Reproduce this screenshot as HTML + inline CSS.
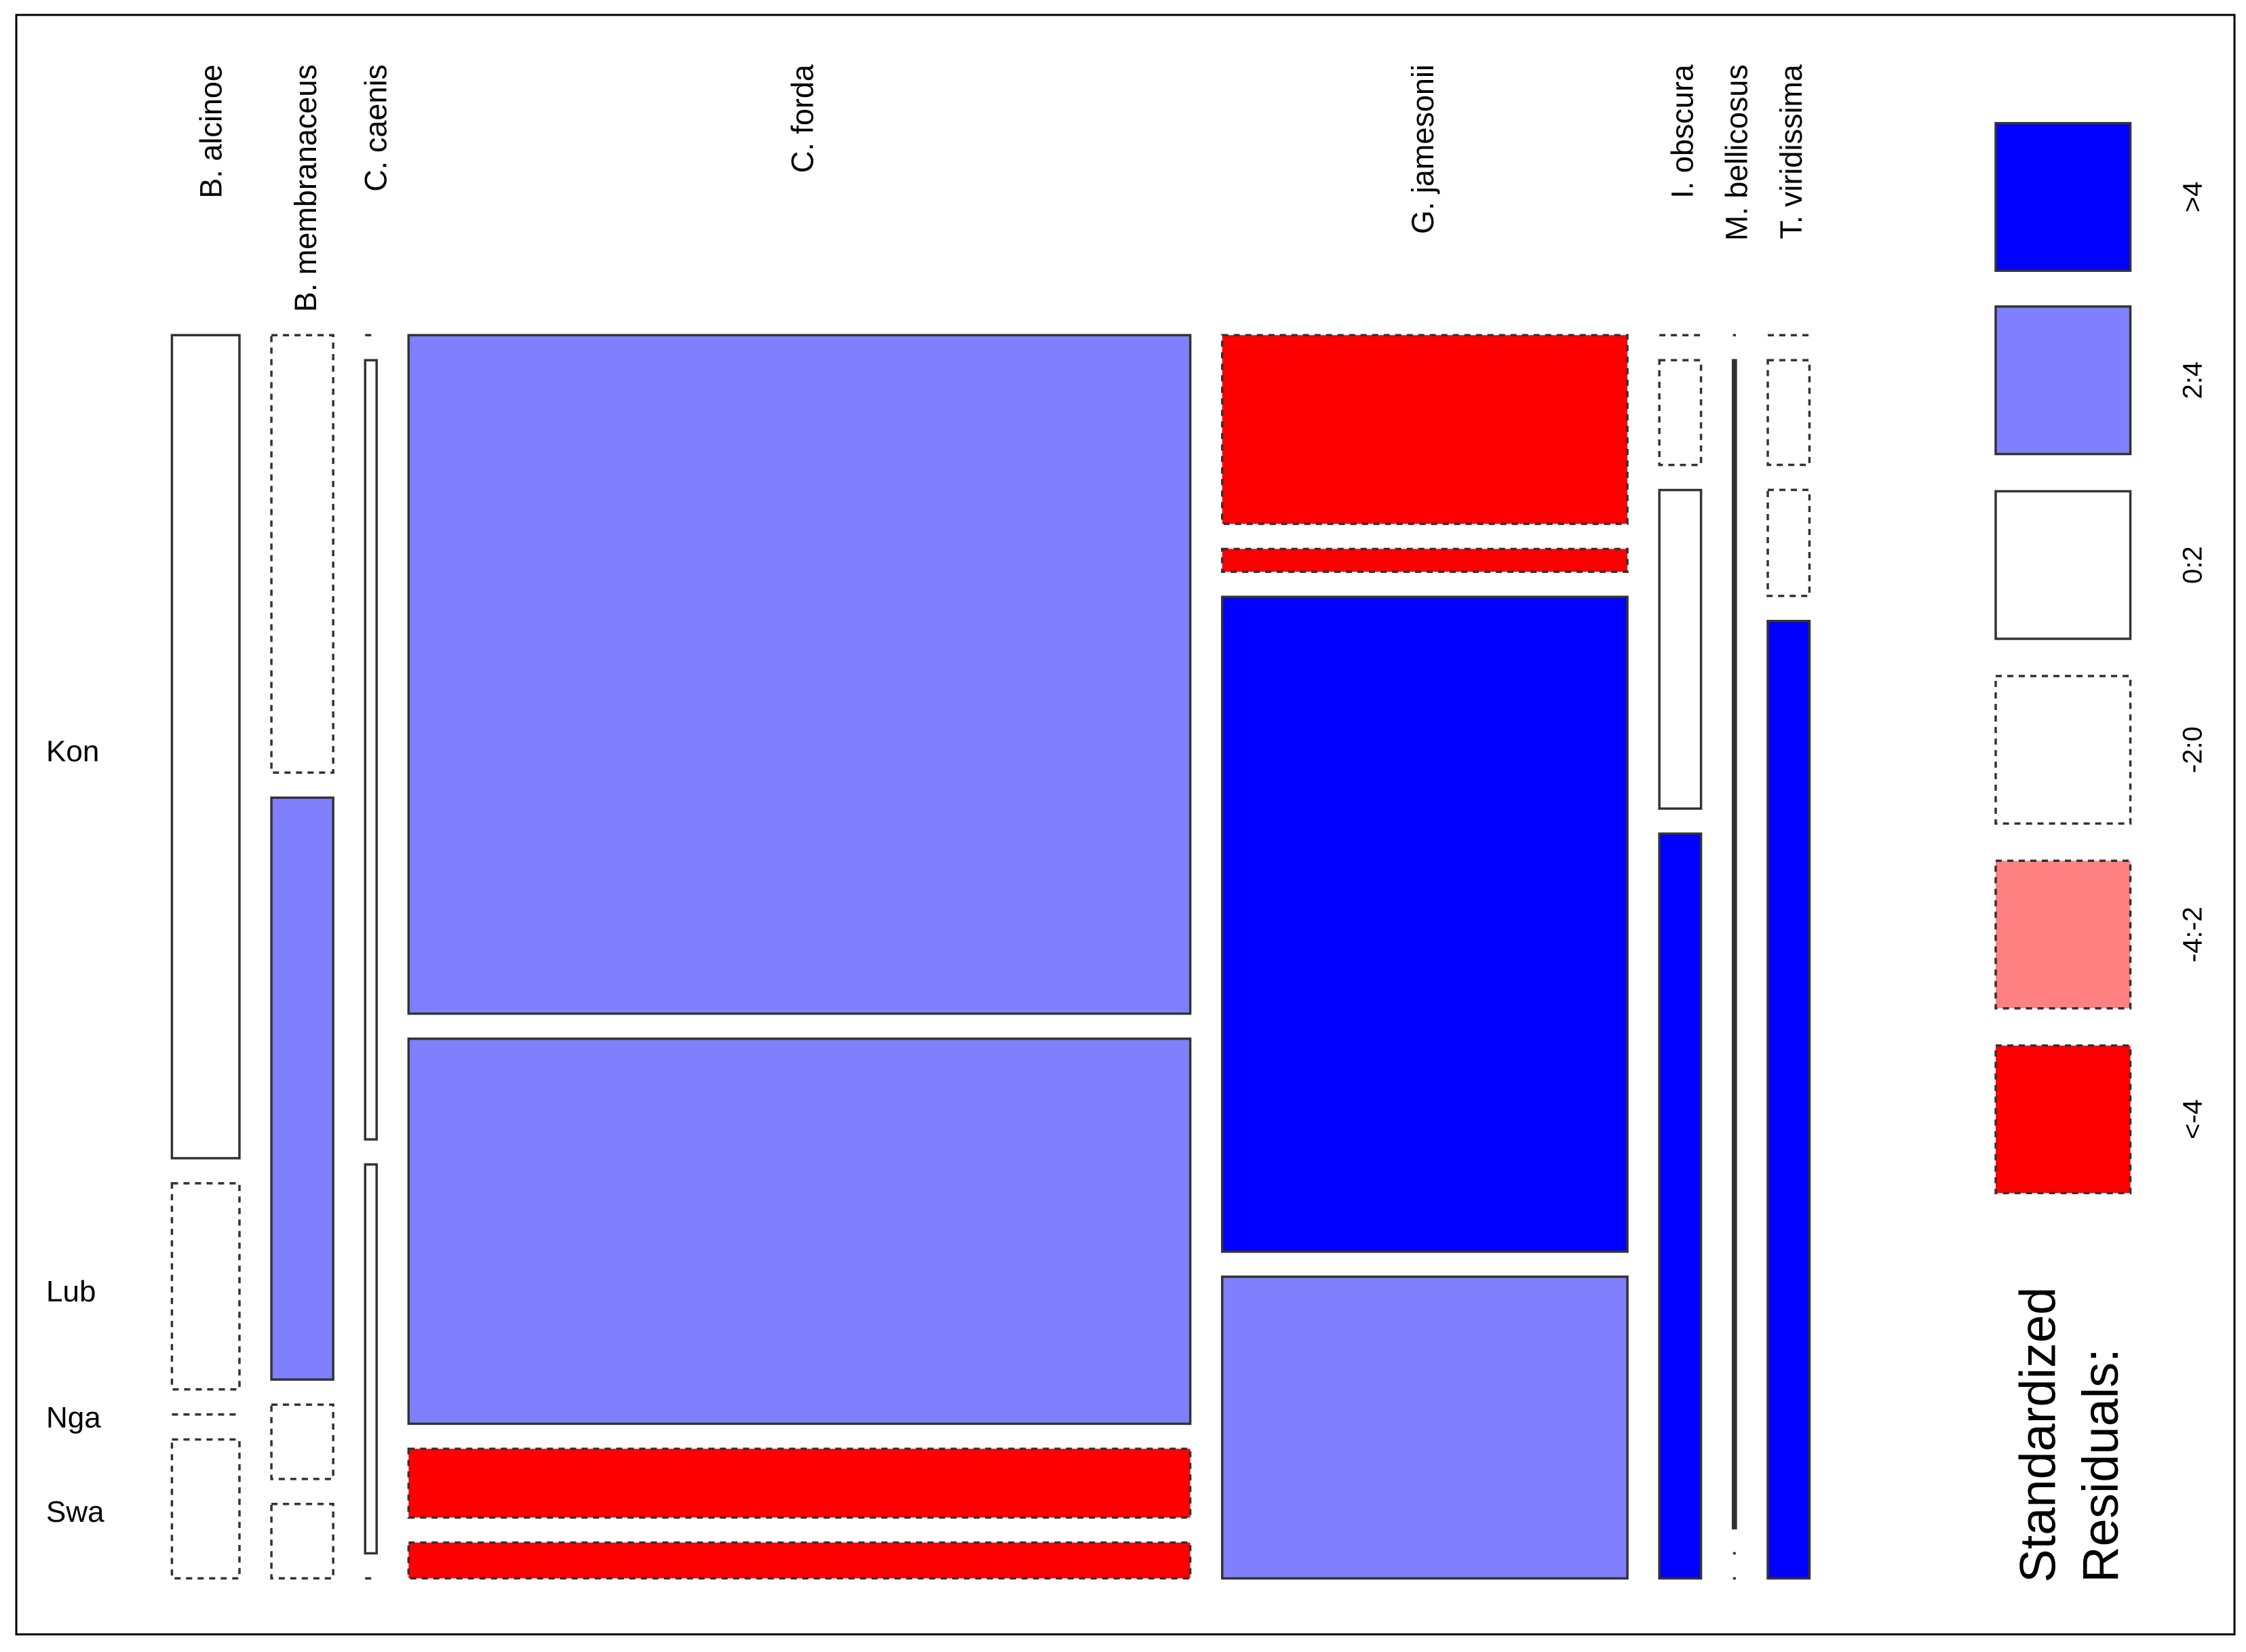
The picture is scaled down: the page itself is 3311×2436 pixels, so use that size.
<!DOCTYPE html>
<html><head><meta charset="utf-8"><style>
html,body{margin:0;padding:0;background:#fff;}
svg{display:block;font-family:"Liberation Sans",sans-serif;}
</style></head><body>
<svg id="chart" width="3311" height="2436" viewBox="0 0 3311 2436" xmlns="http://www.w3.org/2000/svg">
<rect x="24" y="22" width="3270" height="2388" fill="#fff" stroke="#000" stroke-width="3"/>
<g id="cells"></g>
<g id="labels"></g>
<g id="legend"></g>
</svg>
<script>
// ---- data ----
const species = ["B. alcinoe","B. membranaceus","C. caenis","C. forda","G. jamesonii","I. obscura","M. bellicosus","T. viridissima"];
const sites = ["Kon","Lub","Nga","Swa"];
const colTotals = [47,43,8,544,282,29,2,29];
const kon = [575,306,0,474,132,0,0,0];
const lub = [144,407,543,269,16,73,814,73];
const nga = [0,52,271,48,458,222,0,74];
const swa = [97,52,0,25,211,519,0,668];
// residual class per cell: hi (>4), mid (2:4), lo (0:2), neg (-2:0), neg2 (-4:-2), vneg (<-4)
const resKon = ["lo","neg","neg","mid","vneg","neg","neg","neg"];
const resLub = ["neg","mid","lo","mid","vneg","neg","lo","neg"];
const resNga = ["neg","neg","lo","vneg","hi","lo","neg","neg"];
const resSwa = ["neg","neg","neg","vneg","mid","hi","neg","hi"];
const legendLabels = [">4","2:4","0:2","-2:0","-4:-2","<-4"];
const legendClasses = ["hi","mid","lo","neg","neg2","vneg"];
const rowLabelY = [524,901,989,1055];
const colLabelX = [147,213,262,560,993,1174,1212,1250];

// ---- layout (display units * K) ----
const K = 2.112;
const NS = "http://www.w3.org/2000/svg";
const X0 = 120*K, X1 = 1263*K, Y0 = 234*K, Y1 = 1102*K;
const GAPX = 22.3*K, GAPY = 17.5*K;
const styles = {
  hi:{fill:"#0000ff",dash:null},
  mid:{fill:"#8080ff",dash:null},
  lo:{fill:"#ffffff",dash:null},
  neg:{fill:"#ffffff",dash:"9,8"},
  neg2:{fill:"#ff8080",dash:"9,8"},
  vneg:{fill:"#ff0000",dash:"9,8"}
};
function el(tag, attrs, parent){const e=document.createElementNS(NS,tag);for(const k in attrs)e.setAttribute(k,attrs[k]);parent.appendChild(e);return e;}

const cells = document.getElementById('cells');
const totalW = colTotals.reduce((a,b)=>a+b,0);
const availW = (X1-X0) - GAPX*(species.length-1);
const availH = (Y1-Y0) - GAPY*(sites.length-1);
const rows = [kon,lub,nga,swa];
const res = [resKon,resLub,resNga,resSwa];
let x = X0;
for(let c=0;c<species.length;c++){
  const w = colTotals[c]/totalW*availW;
  const colSum = rows.reduce((s,r)=>s+r[c],0);
  let y = Y0;
  for(let r=0;r<sites.length;r++){
    const h = rows[r][c]/colSum*availH;
    const st = styles[res[r][c]];
    let e;
    if(h < 1){
      e = el('line',{x1:x,y1:y,x2:x+w,y2:y,stroke:"#333",'stroke-width':3.5,'stroke-dasharray':"9,8"},cells);
    } else {
      e = el('rect',{x:x,y:y,width:Math.max(w,1),height:h,fill:(w<6?"#222":st.fill),stroke:"#333",'stroke-width':3.5},cells);
      if(st.dash) e.setAttribute('stroke-dasharray',st.dash);
    }
    
    
    y += h + GAPY;
  }
  x += w + GAPX;
}

const labels = document.getElementById('labels');
for(let c=0;c<species.length;c++){
  const lx = colLabelX[c]*K + 16, ly = 45*K;
  const t = el('text',{x:lx,y:ly,'font-size':45,'text-anchor':'end',transform:`rotate(-90 ${lx} ${ly})`,fill:"#000"},labels);
  t.textContent = species[c];
  
  
}
for(let r=0;r<sites.length;r++){
  const t = el('text',{x:68,y:rowLabelY[r]*K+16,'font-size':44,fill:"#000"},labels);
  t.textContent = sites[r];
  
  
}

const legend = document.getElementById('legend');
const boxTops = [86,214,343,472,601,730];
for(let i=0;i<legendLabels.length;i++){
  const st = styles[legendClasses[i]];
  const b = el('rect',{x:1393*K,y:boxTops[i]*K,width:94*K,height:103*K,fill:st.fill,stroke:"#333",'stroke-width':3.5},legend);
  if(st.dash) b.setAttribute('stroke-dasharray',st.dash);
  
  
  const lx = 1530*K + 14, ly = (boxTops[i]+51.5)*K;
  const t = el('text',{x:lx,y:ly,'font-size':40,'text-anchor':'middle',transform:`rotate(-90 ${lx} ${ly})`,fill:"#000"},legend);
  t.textContent = legendLabels[i];
  
  
}
[["Standardized",1422],["Residuals:",1466]].forEach(([s,cx])=>{
  const lx = cx*K + 26, ly = 1105*K;
  const t = el('text',{x:lx,y:ly,'font-size':74,'text-anchor':'start',transform:`rotate(-90 ${lx} ${ly})`,fill:"#000"},legend);
  t.textContent = s;
  
  
});
</script>
</body></html>
